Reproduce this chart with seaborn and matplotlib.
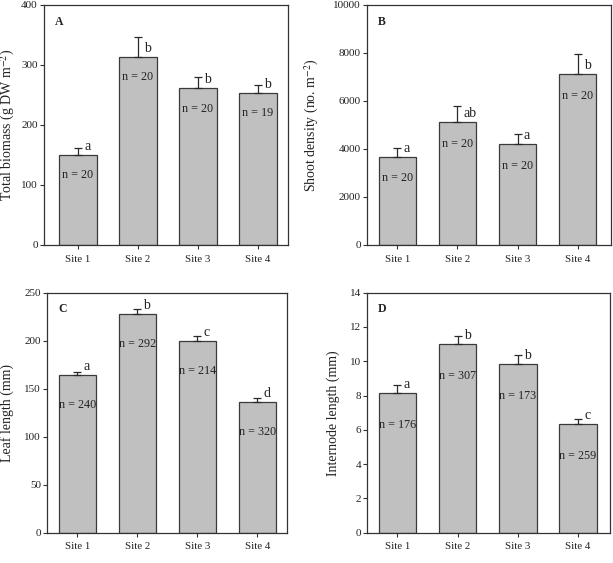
import matplotlib
matplotlib.use("Agg")
import matplotlib.pyplot as plt
import seaborn as sns
import pandas as pd

sites = ["Site 1", "Site 2", "Site 3", "Site 4"]

biomass = [150, 313, 261, 254]
biomass_se = [12, 34, 19, 12]
biomass_letters = ["a", "b", "b", "b"]
biomass_n = ["n = 20", "n = 20", "n = 20", "n = 19"]

density = [3680, 5110, 4195, 7125]
density_se = [375, 695, 415, 833]
density_letters = ["a", "ab", "a", "b"]
density_n = ["n = 20", "n = 20", "n = 20", "n = 20"]

leaf = [164, 228, 200, 136]
leaf_se = [3, 5, 5, 4]
leaf_letters = ["a", "b", "c", "d"]
leaf_n = ["n = 240", "n = 292", "n = 214", "n = 320"]

internode = [8.17, 11.03, 9.82, 6.34]
internode_se = [0.45, 0.43, 0.53, 0.29]
internode_letters = ["a", "b", "b", "c"]
internode_n = ["n = 176", "n = 307", "n = 173", "n = 259"]

sns.set_style("ticks")
plt.rcParams["font.family"] = ["Liberation Serif", "DejaVu Serif"]
plt.rcParams["mathtext.fontset"] = "stix"

W, H = 613, 563
fig = plt.figure(figsize=(W / 100, H / 100), dpi=100)

def px_axes(l, r, t, b):
    return fig.add_axes([l / W, 1 - b / H, (r - l) / W, (b - t) / H])

panels = [
    dict(box=(44, 288, 5, 245), vals=biomass, se=biomass_se, let=biomass_letters, n=biomass_n,
         ylim=(0, 400), yt=[0, 100, 200, 300, 400], xlim=(-0.567, 3.5), tag="A",
         ylabel=r"Total biomass (g DW m$^{-2}$)", lab_x=-0.11, noff=14.5),
    dict(box=(367.3, 610.7, 5, 245), vals=density, se=density_se, let=density_letters, n=density_n,
         ylim=(0, 10000), yt=[0, 2000, 4000, 6000, 8000, 10000], xlim=(-0.5, 3.55), tag="B",
         ylabel=r"Shoot density (no. m$^{-2}$)", lab_x=-0.19, noff=15.5),
    dict(box=(47.3, 287.3, 292.7, 532.7), vals=leaf, se=leaf_se, let=leaf_letters, n=leaf_n,
         ylim=(0, 250), yt=[0, 50, 100, 150, 200, 250], xlim=(-0.5, 3.5), tag="C",
         ylabel="Leaf length (mm)", lab_x=-0.14, noff=21.5),
    dict(box=(367.3, 610, 292.7, 532.7), vals=internode, se=internode_se, let=internode_letters, n=internode_n,
         ylim=(0, 14), yt=[0, 2, 4, 6, 8, 10, 12, 14], xlim=(-0.5, 3.53), tag="D",
         ylabel="Internode length (mm)", lab_x=-0.112, noff=23),
]

for p in panels:
    ax = px_axes(*p["box"])
    df = pd.DataFrame({"site": sites, "value": p["vals"]})
    sns.barplot(data=df, x="site", y="value", ax=ax, color="#c0c0c0",
                saturation=1, width=0.62, edgecolor="#3a3a3a", linewidth=0.9, errorbar=None)
    xs = list(range(len(sites)))
    ax.errorbar(xs, p["vals"], yerr=[[0] * 4, p["se"]], fmt="none", ecolor="#2a2a2a",
                elinewidth=0.9, capsize=3, capthick=0.9, zorder=3)
    for x, v, lt, nl in zip(xs, p["vals"], p["let"], p["n"]):
        ax.annotate(lt, (x + 0.1, v), xytext=(0, 1.5), textcoords="offset points",
                    ha="left", va="bottom", fontsize=10, color="#222222")
        ax.annotate(nl, (x, v), xytext=(0, -p["noff"]), textcoords="offset points",
                    ha="center", va="center", fontsize=8.7, color="#222222")
    ax.set_xlim(*p["xlim"])
    ax.set_ylim(*p["ylim"])
    ax.set_yticks(p["yt"])
    ax.set_xlabel("")
    ax.set_ylabel(p["ylabel"], fontsize=10, color="#222222")
    ax.yaxis.set_label_coords(p["lab_x"], 0.5)
    ax.text(0.045, 0.93, p["tag"], transform=ax.transAxes, fontsize=8.5, fontweight="bold",
            ha="left", va="center", color="#222222")
    for s in ax.spines.values():
        s.set_visible(True)
        s.set_color("#333333")
        s.set_linewidth(0.9)
    ax.tick_params(axis="y", direction="out", length=3, width=0.8, pad=1.5,
                   labelsize=8, colors="#333333", labelcolor="#222222")
    ax.tick_params(axis="x", direction="out", length=3, width=0.8, pad=4,
                   labelsize=7.8, colors="#333333", labelcolor="#222222")
    ax.tick_params(right=False, top=False)

fig.savefig("out.png", dpi=100)
